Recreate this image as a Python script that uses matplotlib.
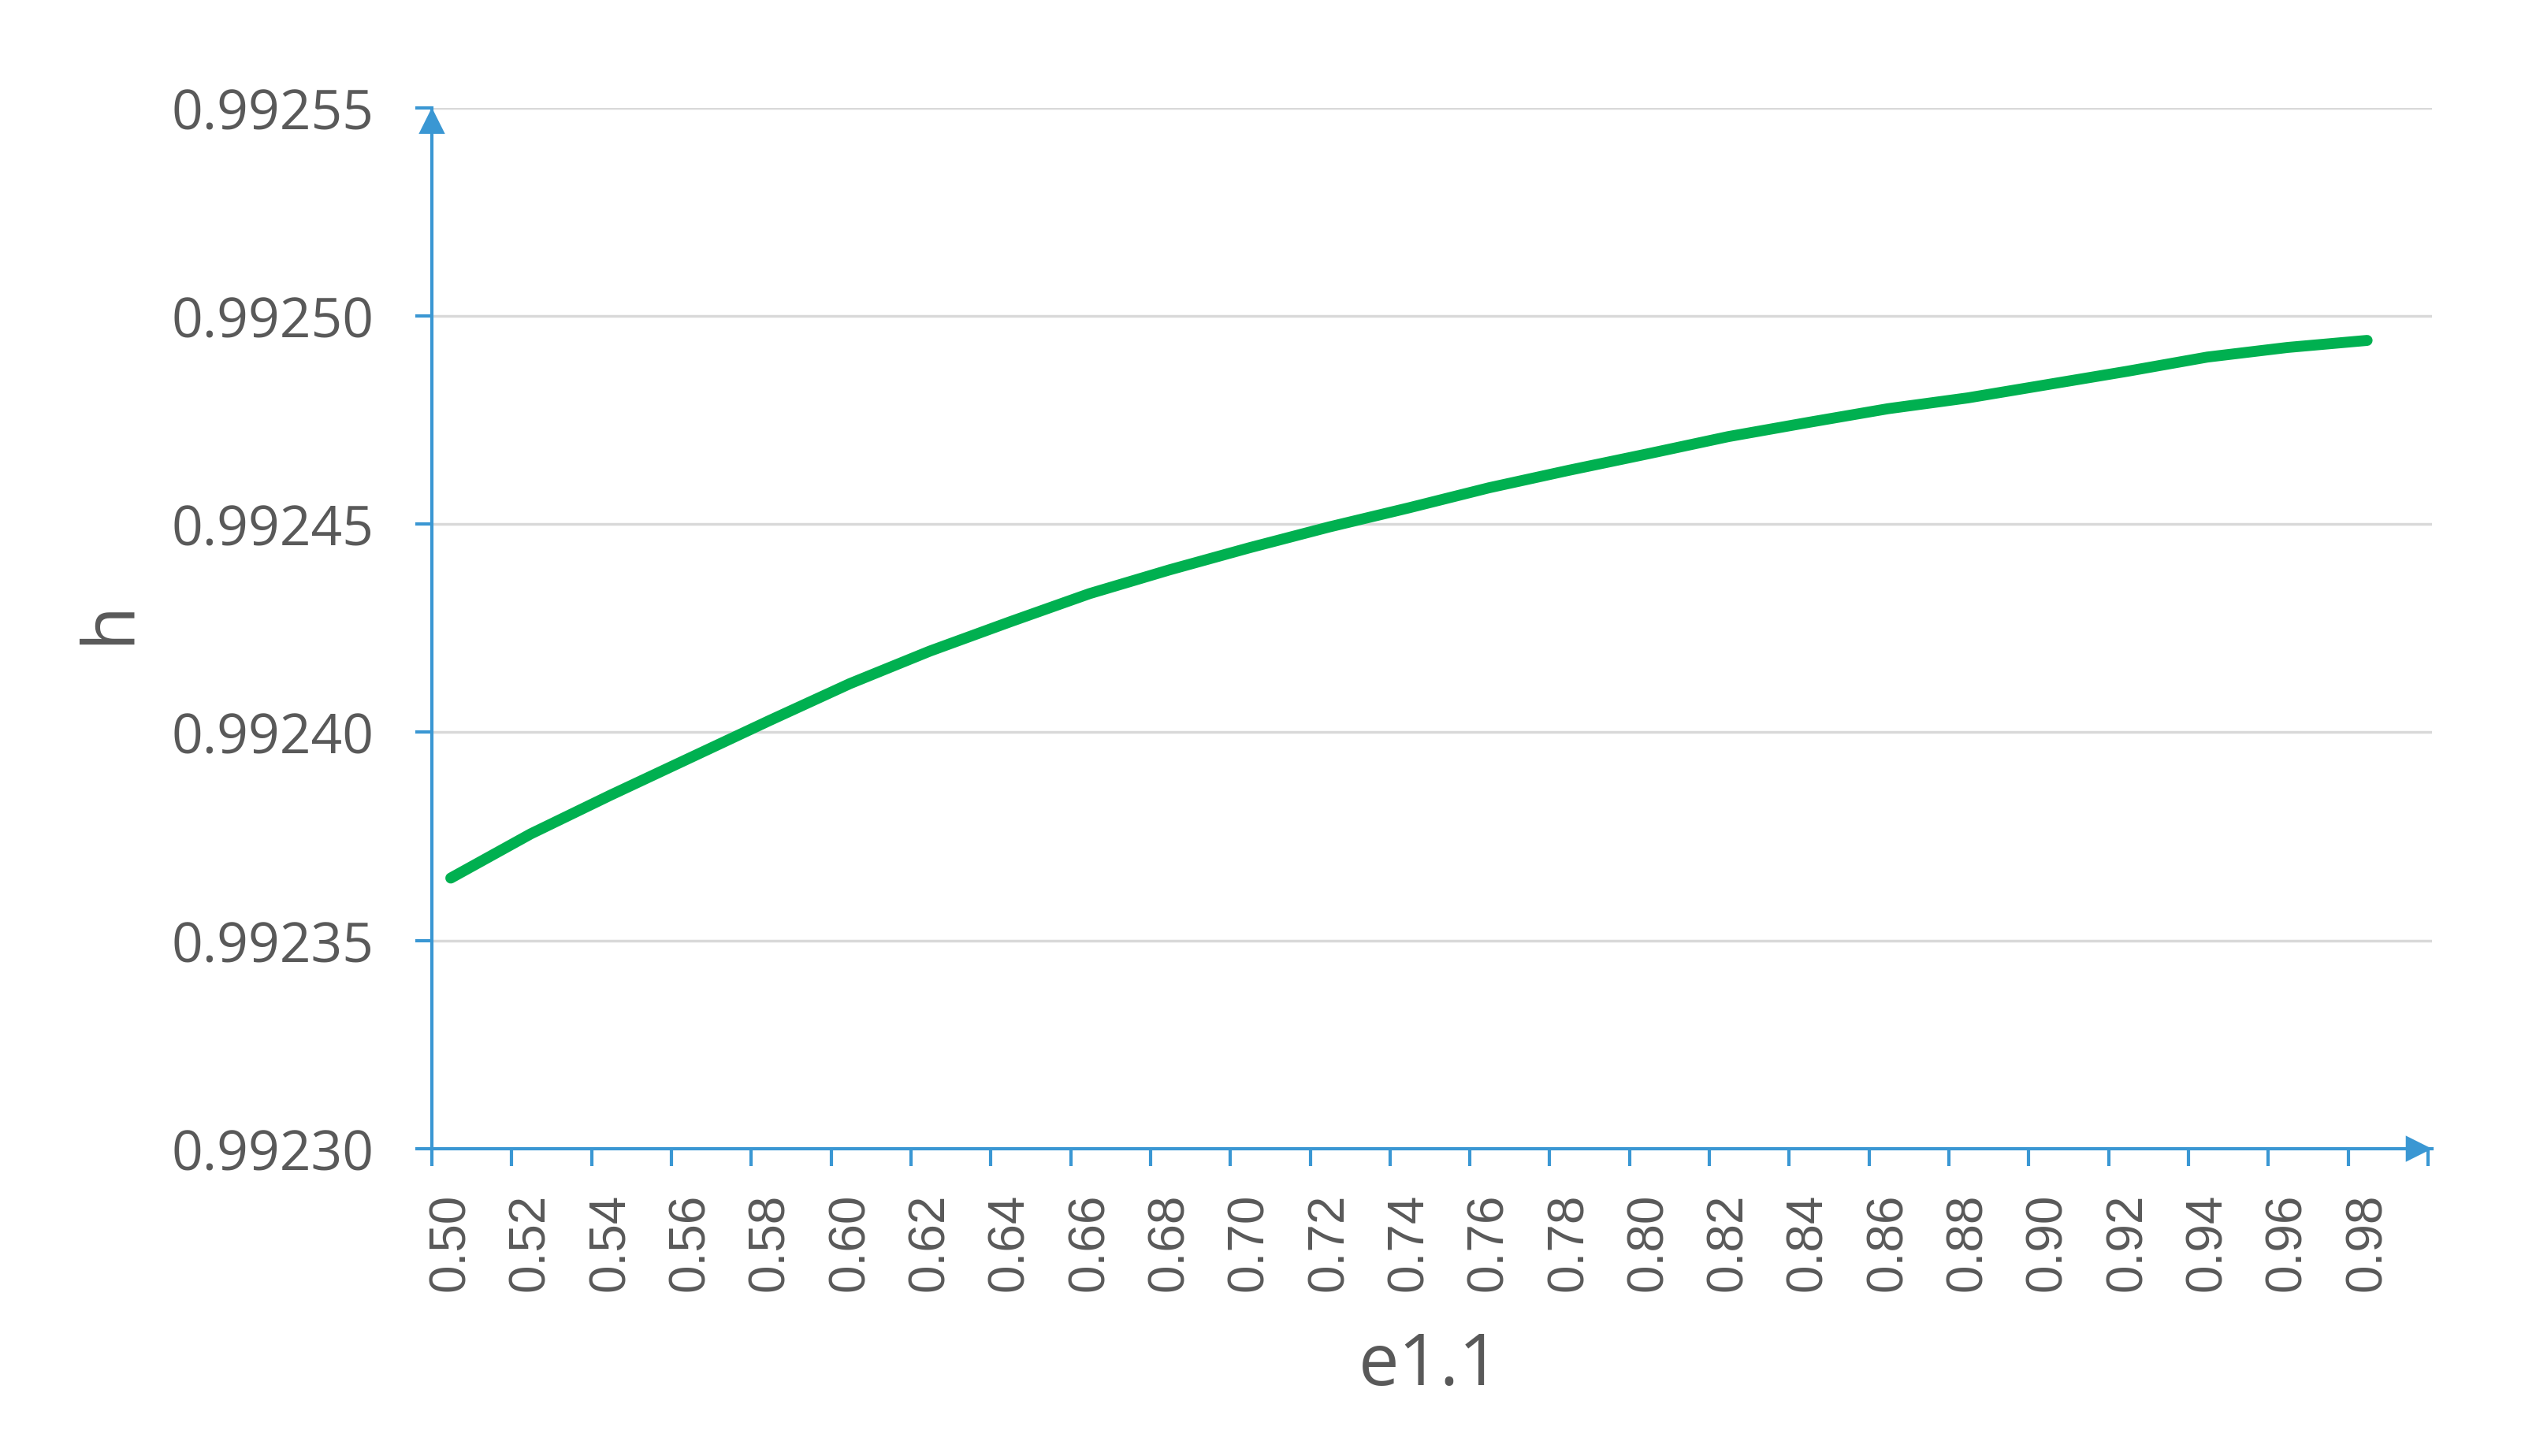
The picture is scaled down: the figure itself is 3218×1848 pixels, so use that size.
import numpy as np
import matplotlib.pyplot as plt

x_labels = ["0.50", "0.52", "0.54", "0.56", "0.58", "0.60", "0.62", "0.64", "0.66",
            "0.68", "0.70", "0.72", "0.74", "0.76", "0.78", "0.80", "0.82", "0.84",
            "0.86", "0.88", "0.90", "0.92", "0.94", "0.96", "0.98"]
h_values = [0.9923650, 0.9923756, 0.9923849, 0.9923939, 0.9924029, 0.9924117,
            0.9924195, 0.9924265, 0.9924333, 0.9924390, 0.9924443, 0.9924493,
            0.9924539, 0.9924587, 0.9924629, 0.9924669, 0.9924710, 0.9924744,
            0.9924777, 0.9924803, 0.9924835, 0.9924867, 0.9924901, 0.9924924,
            0.9924941]
y_ticks = [0.99230, 0.99235, 0.99240, 0.99245, 0.99250, 0.99255]

axis_blue = "#3A97D3"
text_grey = "#595959"

fig = plt.figure(figsize=(32.18, 18.49), dpi=100)
ax = fig.add_axes([0.1703, 0.2109, 0.959 - 0.1703, 0.9256 - 0.2109])

pos = np.arange(len(x_labels))
ax.plot(pos, h_values, color="#00B050", lw=10, solid_capstyle="round", zorder=3)

off = 0.237
ax.set_xlim(-off, len(x_labels) - off + 0.05)
ax.set_ylim(y_ticks[0], y_ticks[-1])

# labels sit at the data points, tick marks at the category boundaries
ax.set_xticks(pos)
ax.set_xticklabels(x_labels, rotation=90, fontsize=46, color=text_grey,
                   family="Liberation Sans")
ax.tick_params(axis="x", which="major", length=0, pad=40)
ax.set_xticks(np.arange(len(x_labels) + 1) - off, minor=True)
ax.tick_params(axis="x", which="minor", length=16, width=3, color=axis_blue,
               direction="out")

ax.set_yticks(y_ticks)
ax.set_yticklabels([f"{v:.5f}" for v in y_ticks], fontsize=50, color=text_grey,
                   family="Open Sans")
ax.tick_params(axis="y", length=15, width=3, color=axis_blue, pad=38)

ax.grid(axis="y", color="#D9D9D9", lw=2.5, zorder=0)
ax.set_axisbelow(True)

for s in ["top", "right"]:
    ax.spines[s].set_visible(False)
for s in ["left", "bottom"]:
    ax.spines[s].set_color(axis_blue)
    ax.spines[s].set_linewidth(3)

# arrow heads at the axis ends
ax.annotate("", xy=(0, 1), xytext=(0, 0.95), xycoords="axes fraction",
            arrowprops=dict(arrowstyle="-|>", color=axis_blue, lw=0,
                            mutation_scale=60, shrinkA=0, shrinkB=0))
ax.annotate("", xy=(1, 0), xytext=(0.97, 0), xycoords="axes fraction",
            arrowprops=dict(arrowstyle="-|>", color=axis_blue, lw=0,
                            mutation_scale=60, shrinkA=0, shrinkB=0))

fig.text(1814 / 3218, 1 - 1734 / 1849, "e1.1", fontsize=66, color=text_grey,
         family="Open Sans", ha="center", va="center")
fig.text(140 / 3218, 1 - 790 / 1849, "h", fontsize=66, color=text_grey,
         family="Open Sans", ha="center", va="center", rotation=90)

fig.savefig("out.png", dpi=100, facecolor="white")
